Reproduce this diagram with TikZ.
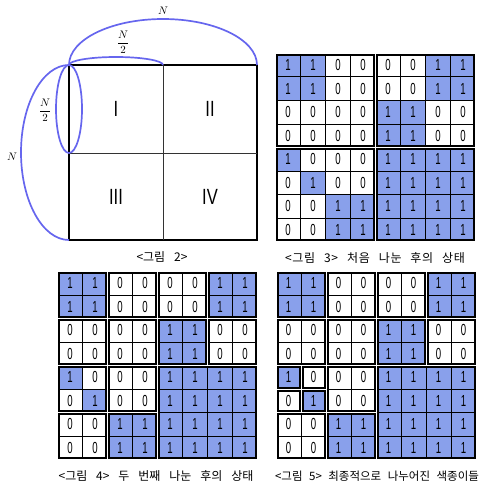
\documentclass[tikz,border=0pt]{standalone}
\usepackage{amsmath}
\usepackage{fontspec}
\usepackage{tikz}
\newfontfamily\krfont{Noto Sans CJK KR}
\newfontfamily\krspread[LetterSpace=6]{Noto Sans CJK KR}
\newfontfamily\numfont[FakeStretch=0.6]{Liberation Sans}
\newfontfamily\romfont[FakeStretch=0.75]{Liberation Sans}
\newcommand{\capspace}[1]{\spaceskip #1\relax}
\definecolor{paperblue}{RGB}{137,160,235}
\definecolor{arcblue}{RGB}{102,102,238}
\tikzset{cellnum/.style={
    % The font:
    font=\numfont\fontsize{16}{16}\selectfont,
    inner sep=0pt,
    },
    cellline/.style={
    line width=1pt,
    draw=black,
    },
    blockframe/.style={
    % The border:
    line width=2pt,
    draw=black,
    },
    blockgap/.style={
    line width=1pt,
    draw=white,
    },
    bigsquare/.style={
    line width=2pt,
    draw=black,
    },
    halfline/.style={
    line width=1pt,
    draw=black!80,
    },
    quadlabel/.style={
    font=\romfont\fontsize{22}{22}\selectfont,
    inner sep=0pt,
    },
    sizearc/.style={
    line width=1.7pt,
    draw=arcblue,
    },
    sizelabel/.style={
    font=\fontsize{11}{12}\selectfont,
    inner sep=0pt,
    },
    figcaption/.style={
    font=\krfont\fontsize{12}{14}\selectfont\capspace{8.9pt},
    inner sep=0pt,
    },
}
\newcommand{\paperrows}{{1,1,0,0,0,0,1,1},{1,1,0,0,0,0,1,1},{0,0,0,0,1,1,0,0},{0,0,0,0,1,1,0,0},{1,0,0,0,1,1,1,1},{0,1,0,0,1,1,1,1},{0,0,1,1,1,1,1,1},{0,0,1,1,1,1,1,1}}
% #1 name prefix, #2 blocks as col/row/size
\newcommand{\papergrid}[2]{
    \foreach \row [count=\r from 0] in \paperrows {
      \foreach \v [count=\c from 0] in \row {
        \ifnum\v=1 \fill[paperblue] (\c*25,\r*23.5) rectangle ({(\c+1)*25},{(\r+1)*23.5}); \fi
        \node[cellnum] (#1-\r-\c) at ({\c*25+12.5},{\r*23.5+11.75}) {\v};
      }
    }
    \foreach \i in {1,...,7} {
      \draw[cellline] (\i*25,0) -- (\i*25,188);
      \draw[cellline] (0,\i*23.5) -- (200,\i*23.5);
    }
    \foreach \c/\r/\s in {#2} {
      \draw[blockgap] (\c*25,\r*23.5) rectangle ({(\c+\s)*25},{(\r+\s)*23.5});
      \draw[blockframe] ({\c*25+1.5},{\r*23.5+1.5}) rectangle ({(\c+\s)*25-1.5},{(\r+\s)*23.5-1.5});
    }
}

\begin{document}
\begin{tikzpicture}[x=1pt,y=-1pt]
    \useasboundingbox (0,0) rectangle (488,492);

    % <그림 2>
    \draw[bigsquare] (69,65) rectangle (257,240);
    \draw[halfline] (163,65) -- (163,240);
    \draw[halfline] (69,153) -- (257,153);
    \node (quadI)   [quadlabel] at (116,109) {I};
    \node (quadII)  [quadlabel] at (210,109) {II};
    \node (quadIII) [quadlabel] at (116,197) {III};
    \node (quadIV)  [quadlabel] at (210,197) {IV};
    \draw[sizearc] (69,65) arc[start angle=180, end angle=360, x radius=94, y radius=46];
    \draw[sizearc] (69,65) arc[start angle=180, end angle=360, x radius=47, y radius=8];
    \draw[sizearc] (69,65) arc[start angle=270, end angle=90, x radius=48, y radius=87.5];
    \draw[sizearc] (69,109) ellipse [x radius=13, y radius=44];
    \node (topN)     [sizelabel] at (163,11)  {$N$};
    \node (tophalf)  [sizelabel] at (123,42)  {$\dfrac{N}{2}$};
    \node (lefthalf) [sizelabel] at (45,110)  {$\dfrac{N}{2}$};
    \node (leftN)    [sizelabel] at (12,157)  {$N$};
    \node (cap2)     [figcaption] at (162,257) {<그림 2>};

    % <그림 3>
    \begin{scope}[shift={(275.5,53.5)}]
      \papergrid{first}{0/0/4,4/0/4,0/4/4,4/4/4}
    \end{scope}
    \node (cap3) [figcaption,font=\krspread\fontsize{12}{14}\selectfont\capspace{8.9pt}] at (375,258) {<그림 3> 처음 나눈 후의 상태};

    % <그림 4>
    \begin{scope}[shift={(57.5,271.5)}]
      \papergrid{second}{0/0/2,2/0/2,0/2/2,2/2/2,4/0/2,6/0/2,4/2/2,6/2/2,0/4/2,2/4/2,0/6/2,2/6/2,4/4/4}
    \end{scope}
    \node (cap4) [figcaption] at (156,476) {<그림 4> 두 번째 나눈 후의 상태};

    % <그림 5>
    \begin{scope}[shift={(276,271.5)}]
      \papergrid{final}{0/0/2,2/0/2,0/2/2,2/2/2,4/0/2,6/0/2,4/2/2,6/2/2,0/4/1,1/4/1,0/5/1,1/5/1,2/4/2,0/6/2,2/6/2,4/4/4}
    \end{scope}
    \node (cap5) [figcaption,font=\krfont\fontsize{11.5}{14}\selectfont\capspace{6.5pt}] at (377,476) {<그림 5> 최종적으로 나누어진 색종이들};
  \end{tikzpicture}
\end{document}
